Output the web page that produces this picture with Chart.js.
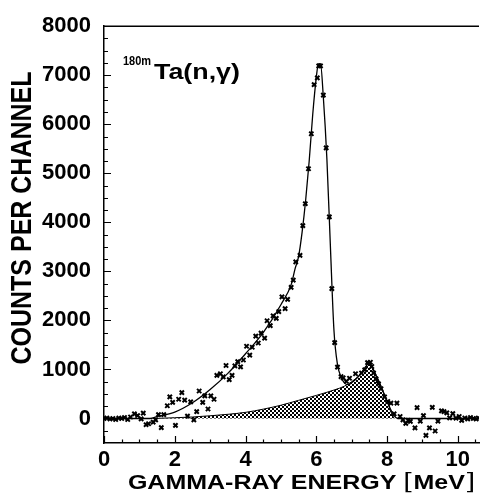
<!DOCTYPE html>
<html>
<head>
<meta charset="utf-8">
<script src="https://cdn.jsdelivr.net/npm/chart.js@4.4.1/dist/chart.umd.min.js"></script>
<style>
  html, body { margin: 0; padding: 0; background: #fff; }
  #wrap { width: 485px; height: 497px; position: relative; }
</style>
</head>
<body>
<div id="wrap"><canvas id="chart"></canvas></div>
<script>
// measured spectrum (energy in MeV, counts per channel)
const pointEnergy = [
  0.0, 0.08, 0.17, 0.25, 0.33, 0.42, 0.5, 0.58, 0.67, 0.75, 0.86, 0.95, 1.05, 1.11,
  1.19, 1.26, 1.39, 1.46, 1.54, 1.62, 1.69, 1.79, 1.86, 1.94, 2.02, 2.11, 2.2, 2.28,
  2.36, 2.45, 2.54, 2.62, 2.69, 2.79, 2.85, 2.94, 3.02, 3.11, 3.19, 3.29, 3.37, 3.45,
  3.54, 3.62, 3.7, 3.78, 3.86, 3.94, 4.03, 4.12, 4.19, 4.29, 4.36, 4.44, 4.54, 4.61,
  4.7, 4.78, 4.87, 4.94, 5.03, 5.12, 5.19, 5.29, 5.35, 5.42, 5.54, 5.62, 5.69, 5.78,
  5.86, 5.94, 6.03, 6.07, 6.12, 6.2, 6.28, 6.37, 6.44, 6.52, 6.6, 6.7, 6.76, 6.85,
  6.94, 7.11, 7.28, 7.37, 7.45, 7.53, 7.57, 7.62, 7.69, 7.76, 7.83, 7.93, 8.02, 8.11,
  8.2, 8.28, 8.37, 8.45, 8.53, 8.6, 8.66, 8.79, 8.85, 8.94, 9.03, 9.1, 9.2, 9.28,
  9.36, 9.44, 9.54, 9.61, 9.69, 9.77, 9.86, 9.95, 10.04, 10.11, 10.2, 10.28, 10.36,
  10.44, 10.52, 10.58
];
const pointCounts = [
  0, 10, -10, 0, -20, 10, 0, 20, -20, 30, 93, 60, -7, 110,
  -127, -107, -73, -27, 80, -187, 80, 260, 440, 327, -140, 393, 527, 373,
  47, 340, -27, 140, 560, 327, 460, 193, 460, 393, 880, 913, 847, 1080,
  793, 880, 1073, 1160, 1053, 1193, 1473, 1293, 1453, 1680, 1540, 1740, 1640, 1993,
  1893, 2093, 2040, 2180, 2480, 2240, 2430, 2673, 2820, 3193, 3327, 3933, 4380, 5093,
  5807, 6807, 6947, 7190, 7190, 6593, 5520, 4113, 2647, 1547, 1047, 853, 827, 760,
  820, 913, 927, 993, 1140, 1147, 1060, 927, 807, 707, 607, 440, 347, 313,
  93, 313, 40, -27, -100, -40, -60, -193, 220, -55, 60, -345, -193, 227,
  -255, -53, 155, 140, 113, 13, 100, 7, 40, -40, 10, -10, 20,
  0, -10, 10
];

// fitted total response
const fitEnergy = [0, 1.0, 1.3, 1.5, 2.0, 2.5, 3.0, 3.5, 4.0, 4.5, 5.0, 5.3, 5.4, 5.5,
  5.6, 5.7, 5.8, 5.9, 6.0, 6.06, 6.12, 6.2, 6.3, 6.4, 6.5, 6.6, 6.7, 6.8, 6.9, 7.0,
  7.2, 7.4, 7.5, 7.6, 7.8, 8.0, 8.1, 8.2, 8.3, 10.6];
const fitCounts = [0, 0, 0, 40, 130, 320, 590, 920, 1320, 1750, 2320, 2750, 3050, 3300,
  3800, 4450, 5250, 6200, 6950, 7230, 7230, 6550, 5300, 3500, 1800, 1100, 850, 720, 690, 730,
  860, 1060, 1130, 1010, 690, 360, 190, 60, 0, 0];

// hatched lower component
const bgEnergy = [1.4, 2.0, 2.5, 3.0, 3.5, 4.0, 4.5, 5.0, 5.5, 6.0, 6.5, 6.8, 7.0, 7.2,
  7.35, 7.45, 7.5, 7.6, 7.7, 7.8, 7.9, 8.0, 8.1, 8.2];
const bgCounts = [0, 15, 30, 55, 85, 125, 190, 270, 370, 470, 580, 660, 750, 870,
  1000, 1110, 1140, 1030, 880, 720, 540, 360, 150, 0];

const xTickValues = [0, 2, 4, 6, 8, 10];
const yTickValues = [0, 1000, 2000, 3000, 4000, 5000, 6000, 7000, 8000];

const FONT = '"Liberation Sans", Arial, Helvetica, sans-serif';

const toXY = (xs, ys) => xs.map((x, i) => ({ x: x, y: ys[i] }));

const canvas = document.getElementById('chart');
const ctx = canvas.getContext('2d');

// checkered cross-hatch used for the lower component
function makeHatch() {
  const c = document.createElement('canvas');
  c.width = 4; c.height = 4;
  const g = c.getContext('2d');
  g.fillStyle = '#fff';
  g.fillRect(0, 0, 4, 4);
  g.fillStyle = '#000';
  g.fillRect(0, 0, 2, 2);
  g.fillRect(2, 2, 2, 2);
  return ctx.createPattern(c, 'repeat');
}

// inward ticks, top frame line, axis titles and the reaction label
const decorations = {
  id: 'decorations',
  afterDraw(chart) {
    const c = chart.ctx;
    const area = chart.chartArea;
    const xs = chart.scales.x;
    const ys = chart.scales.y;
    c.save();
    c.strokeStyle = '#000';
    c.lineWidth = 1.2;
    c.beginPath();
    for (let v = 0; v <= 10.5 + 1e-9; v += 0.5) {
      const px = Math.round(xs.getPixelForValue(v)) + 0.5;
      const len = Math.abs(v % 2) < 1e-6 ? 7 : 3.5;
      c.moveTo(px, area.bottom);
      c.lineTo(px, area.bottom - len);
    }
    for (let v = -250; v <= 8000; v += 250) {
      const py = Math.round(ys.getPixelForValue(v)) + 0.5;
      const len = v % 1000 === 0 ? 7 : 4;
      c.moveTo(area.left, py);
      c.lineTo(area.left + len, py);
    }
    c.stroke();

    c.lineWidth = 1.5;
    c.beginPath();
    c.moveTo(area.left, area.top);
    c.lineTo(area.right, area.top);
    c.stroke();

    c.fillStyle = '#000';
    c.textBaseline = 'alphabetic';

    // y title
    c.save();
    c.translate(31, 218);
    c.rotate(-Math.PI / 2);
    c.scale(1, 1.15);
    c.font = 'bold 25px ' + FONT;
    c.textAlign = 'center';
    c.fillText('COUNTS PER CHANNEL', 0, 0);
    c.restore();

    // x title with thin brackets
    c.save();
    const parts = [
      ['GAMMA-RAY ENERGY ', 'bold 21px ' + FONT],
      ['[', '22px "DejaVu Serif", serif'],
      ['MeV', 'bold 21px ' + FONT],
      [']', '22px "DejaVu Serif", serif']
    ];
    let total = 0;
    parts.forEach(p => { c.font = p[1]; total += c.measureText(p[0]).width; });
    c.translate(301.5, 489);
    c.scale(1.19, 1);
    let x = -total / 2;
    c.textAlign = 'left';
    parts.forEach(p => { c.font = p[1]; c.fillText(p[0], x, 0); x += c.measureText(p[0]).width; });
    c.restore();

    // reaction label
    c.save();
    c.textAlign = 'left';
    c.translate(123, 65);
    c.scale(1, 1.2);
    c.font = 'bold 11px ' + FONT;
    c.fillText('180m', 0, 0);
    c.restore();
    c.save();
    c.translate(154, 79);
    c.scale(1.22, 1);
    c.font = 'bold 22px ' + FONT;
    c.fillText('Ta(n,\u03b3)', 0, 0);
    c.restore();

    c.restore();
  }
};

new Chart(ctx, {
  type: 'scatter',
  data: {
    datasets: [
      {
        label: 'data',
        data: toXY(pointEnergy, pointCounts),
        pointStyle: 'crossRot',
        pointRadius: 3,
        borderColor: '#000',
        borderWidth: 2,
        showLine: false
      },
      {
        label: 'fit',
        type: 'line',
        data: toXY(fitEnergy, fitCounts),
        borderColor: '#000',
        borderWidth: 1.3,
        pointRadius: 0,
        cubicInterpolationMode: 'monotone',
        fill: false
      },
      {
        label: 'component',
        type: 'line',
        data: toXY(bgEnergy, bgCounts),
        borderColor: '#000',
        borderWidth: 1,
        backgroundColor: makeHatch(),
        pointRadius: 0,
        cubicInterpolationMode: 'monotone',
        fill: 'origin'
      }
    ]
  },
  options: {
    responsive: true,
    maintainAspectRatio: false,
    animation: false,
    layout: { padding: { top: 19, right: 0, left: 0, bottom: 0 } },
    plugins: {
      legend: { display: false },
      tooltip: { enabled: false }
    },
    scales: {
      x: {
        type: 'linear',
        min: 0,
        max: 10.6,
        grid: { display: false, drawTicks: false },
        border: { display: true, color: '#000', width: 1.5 },
        ticks: {
          color: '#000',
          padding: 4,
          maxRotation: 0,
          autoSkip: false,
          font: { family: FONT, size: 22, weight: 'bold' },
          callback: v => String(v)
        },
        afterBuildTicks(scale) { scale.ticks = xTickValues.map(v => ({ value: v })); },
        afterFit(scale) { scale.height = 54; }
      },
      y: {
        type: 'linear',
        min: -500,
        max: 8000,
        grid: { display: false, drawTicks: false },
        border: { display: true, color: '#000', width: 1.5 },
        ticks: {
          color: '#000',
          padding: 13,
          autoSkip: false,
          font: { family: FONT, size: 22, weight: 'bold' },
          callback: v => String(v)
        },
        afterBuildTicks(scale) { scale.ticks = yTickValues.map(v => ({ value: v })); },
        afterFit(scale) { scale.width = 104; }
      }
    }
  },
  plugins: [decorations]
});
</script>
</body>
</html>
